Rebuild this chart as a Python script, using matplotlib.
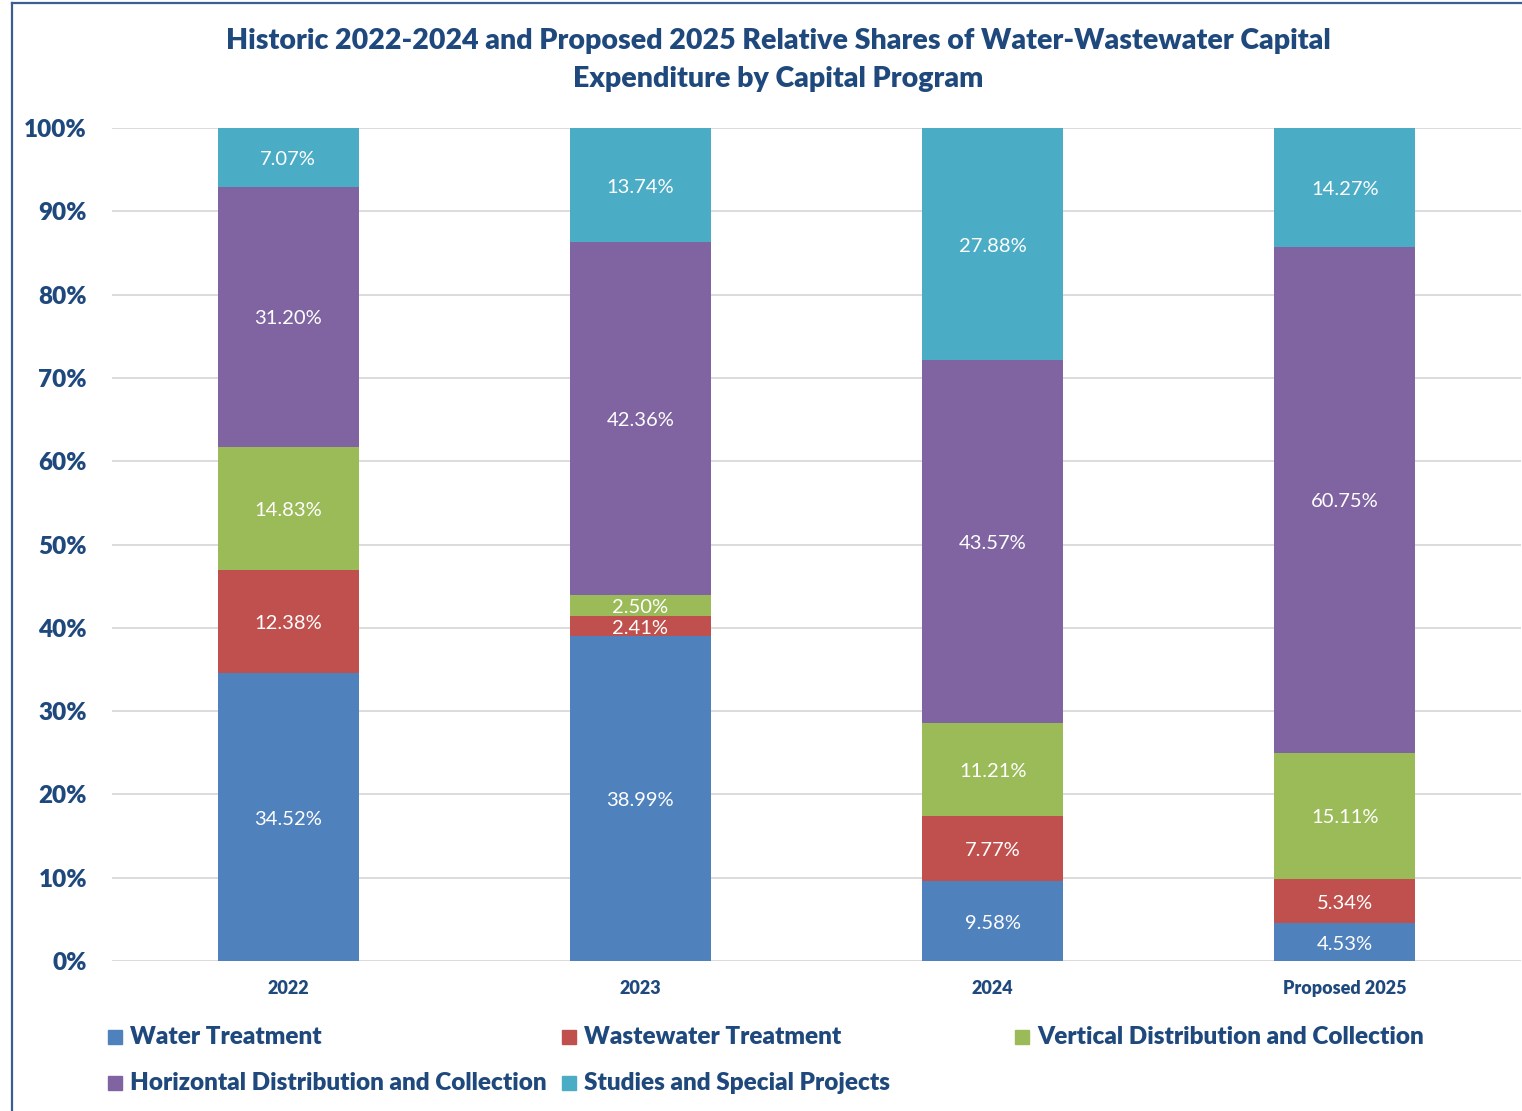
import matplotlib.pyplot as plt
import numpy as np
from matplotlib.patches import Rectangle
from matplotlib.lines import Line2D

plt.rcParams['font.family'] = ['Lato', 'DejaVu Sans']

# data
years = ["2022", "2023", "2024", "Proposed 2025"]
series = ["Water Treatment", "Wastewater Treatment", "Vertical Distribution and Collection",
          "Horizontal Distribution and Collection", "Studies and Special Projects"]
water_treatment = [34.52, 38.99, 9.58, 4.53]
wastewater_treatment = [12.38, 2.41, 7.77, 5.34]
vertical_dist = [14.83, 2.50, 11.21, 15.11]
horizontal_dist = [31.20, 42.36, 43.57, 60.75]
studies = [7.07, 13.74, 27.88, 14.27]
values = [water_treatment, wastewater_treatment, vertical_dist, horizontal_dist, studies]
colors = ["#4F81BD", "#C0504D", "#9BBB59", "#8064A2", "#4BACC6"]

navy = "#1F497D"
bold = "heavy"
W, H = 1522, 1111

fig = plt.figure(figsize=(W / 100, H / 100), dpi=100)
ax = fig.add_axes([112 / W, 1 - 961 / H, 1409 / W, 833 / H])

x = np.arange(len(years))
bottom = np.zeros(len(years))
for name, vals, c in zip(series, values, colors):
    vals = np.array(vals)
    ax.bar(x, vals, 0.4, bottom=bottom, color=c, label=name, zorder=2)
    for xi, b, v in zip(x, bottom, vals):
        ax.text(xi, b + v / 2 - 0.25, f"{v:.2f}%", ha="center", va="center",
                color="white", fontsize=14.5, zorder=3)
    bottom += vals

ax.set_xlim(-0.5, 3.5)
ax.set_ylim(0, 100)
ax.set_yticks(np.arange(0, 101, 10))
ax.set_yticklabels([f"{t}%" for t in range(0, 101, 10)], fontsize=17.5,
                   fontweight=bold, color=navy)
ax.set_xticks(x)
ax.set_xticklabels(years, fontsize=13, fontweight=bold, color=navy)
ax.tick_params(length=0)
ax.tick_params(axis="y", pad=18)
ax.tick_params(axis="x", pad=14)
ax.grid(axis="y", color="#D9D9D9", linewidth=1.3, zorder=0)
for s in ax.spines.values():
    s.set_visible(False)

fig.text(778 / W, 1 - 60 / H,
         "Historic 2022-2024 and Proposed 2025 Relative Shares of Water-Wastewater Capital\n"
         "Expenditure by Capital Program",
         ha="center", va="center", fontsize=20.5, fontweight=bold, color=navy,
         linespacing=1.6)

# legend, equal column widths like Excel
for i, (name, c) in enumerate(zip(series, colors)):
    col, row = i % 3, i // 3
    lx = 108 + col * 453.5
    ly = 1037 + row * 46
    fig.patches.append(Rectangle((lx / W, 1 - (ly + 7) / H), 14 / W, 14 / H,
                                 transform=fig.transFigure, color=c))
    fig.text((lx + 22) / W, 1 - ly / H, name, ha="left", va="center",
             fontsize=17.5, fontweight=bold, color=navy)

# chart frame (left and top edges)
fig.add_artist(Line2D([12 / W, 12 / W], [0, 1 - 3 / H], transform=fig.transFigure,
                      color="#3B5E91", linewidth=1.6))
fig.add_artist(Line2D([12 / W, 1], [1 - 3 / H, 1 - 3 / H], transform=fig.transFigure,
                      color="#3B5E91", linewidth=1.6))

fig.savefig("out.png", dpi=100)
